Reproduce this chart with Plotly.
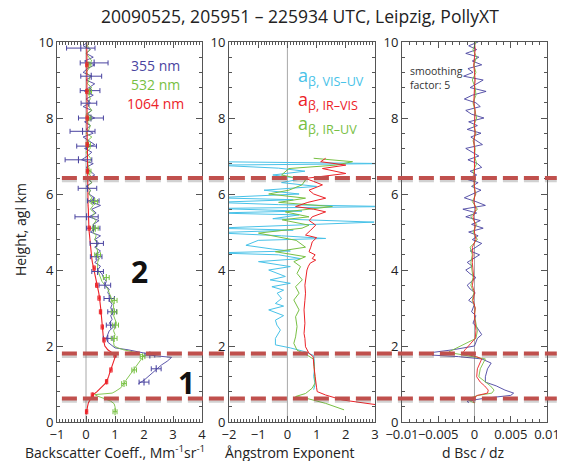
import numpy as np
import plotly.graph_objects as go

# ---------------- DATA ----------------
title_text = "20090525, 205951 – 225934 UTC, Leipzig, PollyXT"
layer_boundaries = [0.62, 1.80, 6.42]

# grid for upper/mid profile part (km)
h_grid = list(np.round(np.arange(10.0, 1.95, -0.1), 2))   # 10.0 ... 2.0

# Panel 1: backscatter coefficient (Mm-1 sr-1)
b355_grid = [0.05, -0.1, 0.15, 0.0, 0.25, -0.05, 0.3, 0.05, -0.1, 0.2, 0.0, 0.3, 0.1, -0.05, 0.25, 0.0,
             0.15, -0.1, 0.2, 0.05, 0.3, -0.05, 0.15, 0.0, 0.25, -0.1, 0.1, 0.3, -0.05, 0.2, 0.05, -0.15,
             0.25, 0.0, 0.15, 0.3, 0.05, 0.2, 0.0, 0.15, 0.1,
             0.3, 0.15, 0.5, 0.2, 0.35, 0.1, 0.45, 0.25, 0.35, 0.15,
             0.5, 0.3, 0.45, 0.3, 0.5, 0.35, 0.45, 0.3, 0.5, 0.4,
             0.55, 0.6, 0.7, 0.65, 0.8, 0.75, 0.85, 0.8, 0.9, 0.85,
             0.95, 0.85, 0.9, 0.8, 0.95, 0.8, 0.75, 0.7, 0.75, 0.9]
h355_low = [1.95, 1.9, 1.85, 1.8, 1.75, 1.7, 1.6, 1.5, 1.4, 1.3, 1.2, 1.1, 1.0]
b355_low = [1.0, 1.45, 1.8, 2.1, 2.3, 2.95, 2.8, 2.6, 2.45, 2.3, 2.15, 2.0, 1.8]

b532_grid = [0.1, 0.05, 0.15, 0.0, 0.1, 0.2, 0.05, 0.1, 0.0, 0.15, 0.1, 0.05, 0.2, 0.0, 0.1, 0.15,
             0.05, 0.1, 0.2, 0.0, 0.1, 0.05, 0.15, 0.1, 0.0, 0.2, 0.05, 0.1, 0.15, 0.0, 0.1, 0.2,
             0.05, 0.1, 0.0, 0.15, 0.1, 0.2, 0.05, 0.15, 0.1,
             0.2, 0.1, 0.25, 0.15, 0.3, 0.2, 0.35, 0.25, 0.3, 0.25,
             0.35, 0.3, 0.4, 0.35, 0.4, 0.35, 0.45, 0.4, 0.4, 0.4,
             0.45, 0.5, 0.55, 0.65, 0.75, 0.8, 0.85, 0.9, 0.95, 0.95,
             1.0, 0.95, 1.0, 1.05, 1.0, 0.95, 1.0, 0.95, 0.95, 0.97]
h532_low = [1.95, 1.9, 1.85, 1.8, 1.75, 1.7, 1.6, 1.5, 1.4, 1.3, 1.2, 1.1, 1.0, 0.9, 0.8, 0.76,
            0.72, 0.68, 0.62, 0.55, 0.48, 0.4, 0.27]
b532_low = [1.1, 1.3, 1.6, 1.8, 2.0, 1.95, 1.85, 1.75, 1.65, 1.55, 1.45, 1.38, 1.3, 1.2, 1.0, 0.9,
            0.3, 0.4, 0.62, 0.85, 0.97, 1.0, 1.02]

b1064_grid = [0.02, 0.03, 0.02, 0.03, 0.03, 0.02, 0.03, 0.03, 0.02, 0.03, 0.03, 0.03, 0.02, 0.03, 0.03, 0.03,
              0.03, 0.04, 0.03, 0.03, 0.04, 0.04, 0.03, 0.04, 0.04, 0.04, 0.04, 0.05, 0.04, 0.05, 0.05, 0.05,
              0.05, 0.05, 0.05, 0.06, 0.05, 0.06, 0.06, 0.06, 0.06,
              0.06, 0.07, 0.07, 0.08, 0.08, 0.09, 0.09, 0.1, 0.1, 0.11,
              0.12, 0.13, 0.14, 0.15, 0.17, 0.18, 0.2, 0.22, 0.25, 0.28,
              0.3, 0.33, 0.36, 0.4, 0.42, 0.44, 0.46, 0.48, 0.5, 0.5,
              0.52, 0.53, 0.54, 0.55, 0.56, 0.56, 0.58, 0.6, 0.62, 0.65]
h1064_low = [1.95, 1.9, 1.85, 1.8, 1.75, 1.7, 1.6, 1.5, 1.4, 1.3, 1.2, 1.1, 1.0, 0.9, 0.8, 0.7,
             0.6, 0.5, 0.4, 0.3, 0.25]
b1064_low = [0.7, 0.75, 0.85, 0.95, 1.02, 1.0, 0.95, 0.9, 0.86, 0.82, 0.78, 0.73, 0.65, 0.52, 0.38, 0.22,
             0.14, 0.08, 0.05, 0.02, 0.02]

# error-bar points
eb355_h = [9.84, 9.45, 9.10, 8.72, 8.39, 8.0, 7.65, 7.26, 6.90, 6.15, 5.82, 5.40, 5.10, 4.70, 4.35, 3.96,
           3.6, 3.25, 2.9, 2.55, 2.2, 1.76, 1.4, 1.05]
eb355_x = [-0.18, 0.28, 0.18, 0.14, 0.1, 0.17, -0.12, 0.02, -0.26, 0.05, 0.25, 0.02, 0.25, 0.37, 0.35, 0.4,
           0.65, 0.8, 0.9, 0.85, 0.75, 2.2, 2.42, 2.0]
eb355_e = [0.49, 0.48, 0.36, 0.34, 0.27, 0.43, 0.43, 0.34, 0.46, 0.32, 0.2, 0.4, 0.23, 0.23, 0.2, 0.2,
           0.2, 0.18, 0.15, 0.15, 0.15, 0.17, 0.17, 0.17]
eb532_h = [9.4, 8.7, 8.0, 7.3, 6.6, 5.8, 5.1, 4.4, 3.8, 3.2, 2.9, 2.55, 2.2, 1.72, 1.37, 1.01, 0.27]
eb532_x = [0.1, 0.12, 0.1, 0.08, 0.1, 0.3, 0.32, 0.4, 0.7, 0.97, 0.97, 1.02, 0.97, 1.95, 1.66, 1.31, 1.0]
eb532_e = [0.07, 0.07, 0.07, 0.07, 0.07, 0.1, 0.1, 0.1, 0.1, 0.1, 0.1, 0.1, 0.1, 0.08, 0.08, 0.08, 0.07]
eb1064_h = [9.4, 8.7, 8.0, 7.3, 6.6, 5.1, 4.05, 3.6, 3.26, 2.9, 2.5, 2.16, 1.76, 1.37, 1.06, 0.71, 0.27]
eb1064_x = [0.03, 0.03, 0.04, 0.04, 0.05, 0.11, 0.28, 0.37, 0.45, 0.5, 0.56, 0.62, 1.0, 0.86, 0.71, 0.22, 0.02]
eb1064_e = [0.04] * 17

# Panel 2: Angstrom exponents
ang_irvis_h = [0.45, 0.58, 0.71, 0.8, 0.9, 1.03, 1.2, 1.46, 1.72, 1.81, 1.98, 2.2, 2.33, 2.6, 2.95, 3.2,
               3.39, 3.6, 3.74, 4.0, 4.1, 4.18, 4.26, 4.3, 4.4, 4.48, 4.6, 4.74, 4.85, 4.92, 5.05, 5.18,
               5.3, 5.4, 5.53, 5.6, 5.67, 5.78, 5.89, 6.0, 6.1, 6.24, 6.33, 6.41, 6.54, 6.67, 6.76, 6.85, 6.94]
ang_irvis = [3.09, 1.88, 1.31, 1.02, 1.0, 0.97, 0.95, 0.91, 0.88, 0.74, 0.62, 0.6, 0.57, 0.6, 0.57, 0.6,
             0.62, 0.6, 0.62, 0.67, 0.72, 0.78, 0.97, 0.85, 0.95, 0.74, 0.8, 0.85, 1.0, 0.62, 0.8, 0.97,
             0.75, 0.85, 1.31, 0.9, 0.28, 0.7, 1.31, 0.9, 0.74, 1.2, 0.9, 0.62, 2.0, 1.2, 2.0, 1.14, 1.31]
ang_iruv_h = [0.32, 0.49, 0.63, 0.67, 0.75, 0.89, 1.03, 1.2, 1.46, 1.65, 1.76, 1.89, 2.07, 2.24, 2.51, 2.77,
              2.95, 3.21, 3.39, 3.56, 3.74, 3.91, 4.09, 4.22, 4.35, 4.48, 4.6, 4.78, 4.97, 5.1, 5.18, 5.32,
              5.4, 5.53, 5.67, 5.78, 5.89, 6.0, 6.1, 6.24, 6.37, 6.5, 6.67, 6.76, 6.85, 6.94]
ang_iruv = [1.94, 1.31, 0.62, 0.28, 0.62, 0.85, 0.95, 0.93, 0.92, 0.9, 0.68, 0.33, 0.22, 0.28, 0.33, 0.28,
            0.4, 0.22, 0.4, 0.28, 0.51, 0.33, 0.45, 0.22, 0.62, -0.41, 0.62, 0.3, -0.99, 0.5, 0.74, -0.18,
            0.74, -0.07, 1.54, -0.3, 0.62, -0.64, 0.05, 0.5, 0.62, -0.2, 0.05, 1.66, 2.23, 0.9]
ang_visuv_h = [0.85, 1.0, 1.2, 1.4, 1.6, 1.75, 1.85, 1.95, 2.03, 2.2, 2.42, 2.55, 2.68, 2.8, 2.95, 3.05,
               3.12, 3.25, 3.39, 3.47, 3.56, 3.65, 3.74, 3.83, 4.0, 4.09, 4.22, 4.3, 4.4, 4.45, 4.5, 4.55,
               4.65, 4.78, 4.83, 4.9, 4.98, 5.05, 5.1, 5.18, 5.26, 5.35, 5.45, 5.5, 5.55, 5.62, 5.67, 5.72,
               5.78, 5.85, 5.9, 6.0, 6.1, 6.2, 6.3, 6.4, 6.5, 6.6, 6.68, 6.76, 6.8, 6.85]
ang_visuv = [0.9, 0.95, 0.9, 0.93, 0.92, 0.9, 0.6, 0.1, -0.41, -0.41, -0.24, -0.36, -0.41, -0.13, -0.64, -0.13,
             -0.41, -0.2, -0.35, -0.13, -0.53, 0.1, -0.59, -0.07, -0.64, 0.1, -0.99, 0.45, -0.3, -2.5, 0.1, -0.5,
             -1.42, -1.0, 1.31, -0.2, -2.5, 0.2, -2.5, 0.3, 2.97, -0.5, 0.4, -2.5, 0.5, -2.5, 3.5, -0.3,
             -2.5, 0.2, -2.5, 0.4, -0.8, 1.0, -0.2, 0.5, -0.5, 0.6, -0.3, -2.5, 3.5, -2.5]

# Panel 3: d Bsc / dz (values in units of 0.001)
d355_grid = [0.5, -0.8, 0.3, -1.2, 0.6, -0.3, 1.0, -0.9, -0.2, -1.5, 1.2, 0.2, -0.6, 1.6, -0.3, -1.4,
             0.2, 0.8, -1.2, -0.4, 1.3, -0.8, 0.4, -1.0, 0.9, -0.5, 0.3, 1.1, -1.2, -0.2, 0.6, -0.9,
             0.4, 1.0, -0.6, 0.3, -1.3, 0.5, -0.4, 0.9, -0.2,
             -1.4, 0.2, 1.5, -1.6, 0.3, -1.2, 0.8, -0.4, 1.2, -0.8,
             0.5, -0.3, 1.0, 0.2, -0.6, 0.7, -0.2, -1.0, -0.3, -1.2,
             -0.6, 0.2, -0.4, -1.0, -0.6, 0.1, -0.3, -0.8, 0.0, -0.2,
             -0.4, 0.2, 0.0, -0.2, 0.3, 0.6, 1.0, 0.4, 0.2, 0.0]
h_grad_low = [2.0, 1.9, 1.85, 1.82, 1.76, 1.72, 1.66, 1.55, 1.4, 1.19, 1.05, 0.95, 0.84, 0.76, 0.7,
              0.62, 0.55, 0.5]
d355_low = [-3.0, -5.5, -6.2, -5.8, -2.2, 1.0, 2.3, 1.8, 1.5, 1.5, 3.0, 4.2, 5.4, 5.0, 1.2, -1.0, -0.8, 0.0]
h_grid2 = list(np.round(np.arange(10.0, 2.05, -0.2), 2))   # 10.0 ... 2.2
d532_grid = [0.2, -0.2, 0.3, -0.1, 0.2, -0.3, 0.1, 0.2, -0.2, 0.1, 0.3, -0.1, 0.2, -0.2, 0.1, 0.0,
             0.3, -0.2, 0.1, -0.1, 0.2, -0.3, 0.4, -0.5, 0.3, -0.2, 0.4, -0.6, -0.3, -0.5,
             -0.4, -0.2, -0.5, -0.1, -0.3, 0.1, 0.0, 0.2, 0.4, 0.2]
d532_low = [-1.8, -3.0, -3.5, -3.2, -1.5, 0.2, 1.5, 1.2, 0.8, 0.6, 1.5, 2.2, 2.7, 2.4, 0.5, -0.8, -0.6, 0.0]
d1064_grid = [0.0, 0.1, 0.0, -0.1, 0.0, 0.1, 0.0, 0.0, -0.1, 0.1, 0.0, 0.0, 0.1, -0.1, 0.0, 0.0,
              0.1, 0.0, -0.1, 0.0, 0.1, -0.1, 0.2, -0.2, 0.1, 0.0, 0.2, -0.3, -0.2, -0.3,
              -0.2, -0.1, -0.3, 0.0, -0.2, 0.1, 0.0, 0.1, 0.2, 0.1]
d1064_low = [-0.9, -1.3, -1.5, -1.4, -0.6, 0.3, 1.0, 0.7, 0.4, 0.3, 0.8, 1.4, 1.9, 1.8, 0.4, -0.3, -0.2, 0.0]

# ---------------- STYLE ----------------
C_BLUE = "#4a44a0"
C_GREEN = "#78c043"
C_RED = "#ec2228"
C_CYAN = "#48c2e8"
C_DASH = "#c0504d"
FONT = "Open Sans"

fig = go.Figure()


def line(x, y, color, ax, width=1):
    fig.add_trace(go.Scatter(x=x, y=y, mode="lines", line=dict(color=color, width=width),
                             xaxis=ax[0], yaxis=ax[1], showlegend=False, hoverinfo="skip"))


def ebars(x, y, e, color, ax, size=5):
    fig.add_trace(go.Scatter(x=x, y=y, mode="markers",
                             marker=dict(symbol="line-ns", size=size, line=dict(color=color, width=1.1)),
                             error_x=dict(type="data", array=e, color=color, thickness=1, width=2.5),
                             xaxis=ax[0], yaxis=ax[1], showlegend=False, hoverinfo="skip"))


A1, A2, A3 = ("x", "y"), ("x2", "y2"), ("x3", "y3")

# panel 1
line(b355_grid + b355_low, h_grid + h355_low, C_BLUE, A1, 0.9)
line(b532_grid + b532_low, h_grid + h532_low, C_GREEN, A1, 0.9)
line(b1064_grid + b1064_low, h_grid + h1064_low, C_RED, A1, 1.1)
ebars(eb355_x, eb355_h, eb355_e, C_BLUE, A1)
ebars(eb532_x, eb532_h, eb532_e, C_GREEN, A1)
ebars(eb1064_x, eb1064_h, eb1064_e, C_RED, A1, size=4)

# panel 2
line(ang_visuv, ang_visuv_h, C_CYAN, A2, 1)
line(ang_iruv, ang_iruv_h, C_GREEN, A2, 1)
line(ang_irvis, ang_irvis_h, C_RED, A2, 1)

# panel 3
line([v * 1e-3 for v in d355_grid + d355_low], h_grid[:-1] + h_grad_low, C_BLUE, A3, 0.9)
line([v * 1e-3 for v in d532_grid + d532_low], h_grid2 + h_grad_low, C_GREEN, A3, 0.9)
line([v * 1e-3 for v in d1064_grid + d1064_low], h_grid2 + h_grad_low, C_RED, A3, 0.9)

# zero reference lines
for xr in ["x", "x2", "x3"]:
    fig.add_shape(type="line", xref=xr, yref="paper", x0=0, x1=0, y0=0, y1=1,
                  line=dict(color="#a8a8a8", width=1), layer="below")

# layer boundaries (dashed, with a soft shadow)
for h in layer_boundaries:
    fig.add_shape(type="line", xref="paper", yref="y", x0=0.01, x1=1.02, y0=h - 0.06, y1=h - 0.06,
                  line=dict(color="rgba(90,90,90,0.28)", width=4, dash="15px,6px"))
    fig.add_shape(type="line", xref="paper", yref="y", x0=0.01, x1=1.02, y0=h, y1=h,
                  line=dict(color=C_DASH, width=4, dash="15px,6px"))

axis_common = dict(showline=True, linecolor="#555", linewidth=1, mirror="ticks", ticks="inside",
                   tickcolor="#555", ticklen=6, showgrid=False, zeroline=False, automargin=False,
                   tickfont=dict(family=FONT, size=13, color="#222"))

yax = dict(axis_common, range=[0, 10], dtick=2, tick0=0,
           minor=dict(ticks="inside", ticklen=3, dtick=0.4, tick0=0, tickcolor="#555"))

# page body has an 8px margin, so the figure is sized to fit the 565x461 window
fig.update_layout(
    width=557, height=453,
    margin=dict(l=49, r=18, t=34, b=39),
    paper_bgcolor="white", plot_bgcolor="white",
    font=dict(family=FONT, color="#222"),
    xaxis=dict(axis_common, domain=[0, 0.296], range=[-1, 4], dtick=1, tickangle=0,
               minor=dict(ticks="inside", ticklen=3, dtick=0.1, tickcolor="#555")),
    xaxis2=dict(axis_common, domain=[0.351, 0.649], range=[-2, 3], dtick=1, anchor="y2", tickangle=0,
                minor=dict(ticks="inside", ticklen=3, dtick=0.1, tickcolor="#555")),
    xaxis3=dict(axis_common, domain=[0.704, 1.0], range=[-0.01, 0.01], dtick=0.005, anchor="y3",
                tickangle=0,
                minor=dict(ticks="inside", ticklen=3, dtick=0.001, tickcolor="#555")),
    yaxis=dict(yax, anchor="x"),
    yaxis2=dict(yax, anchor="x2"),
    yaxis3=dict(yax, anchor="x3"),
)

ann = []
ann.append(dict(text=title_text, xref="paper", yref="paper", x=0.496, y=1.068, showarrow=False,
                font=dict(size=17.5, color="#222"), xanchor="center", yanchor="middle"))
ann.append(dict(text="Height, agl km", xref="paper", yref="paper", x=-0.0755, y=0.505, textangle=-90,
                showarrow=False, font=dict(size=14), xanchor="center", yanchor="middle"))
ann.append(dict(text="Backscatter Coeff., Mm<sup>-1</sup>sr<sup>-1</sup>", xref="paper", yref="paper",
                x=0.118, y=-0.079, showarrow=False, font=dict(size=14), xanchor="center", yanchor="middle"))
ann.append(dict(text="Ångstrom Exponent", xref="paper", yref="paper", x=0.4755, y=-0.079,
                showarrow=False, font=dict(size=14), xanchor="center", yanchor="middle"))
ann.append(dict(text="d Bsc / dz", xref="paper", yref="paper", x=0.851, y=-0.079,
                showarrow=False, font=dict(size=14), xanchor="center", yanchor="middle"))
# legend texts panel 1
for txt, yy, col in [("355 nm", 9.37, C_BLUE), ("532 nm", 8.87, C_GREEN), ("1064 nm", 8.39, C_RED)]:
    ann.append(dict(text=txt, xref="x", yref="y", x=2.4, y=yy, showarrow=False,
                    font=dict(size=14, color=col), xanchor="center", yanchor="middle"))
# legend texts panel 2
for txt, yy, col in [("VIS–UV", 9.08, C_CYAN), ("IR–VIS", 8.45, C_RED), ("IR–UV", 7.82, C_GREEN)]:
    ann.append(dict(text="a<sub>β, " + txt + "</sub>", xref="x2", yref="y2", x=0.3, y=yy, showarrow=False,
                    font=dict(size=18, color=col), xanchor="left", yanchor="middle"))
# panel 3 note
ann.append(dict(text="smoothing<br>factor: 5", xref="x3", yref="y3", x=-0.0092, y=9.05, showarrow=False,
                font=dict(size=10.5, color="#333"), xanchor="left", yanchor="middle", align="left"))
# layer numbers
ann.append(dict(text="<b>2</b>", xref="x", yref="y", x=1.86, y=3.95, showarrow=False,
                font=dict(size=30, color="#111"), xanchor="center", yanchor="middle"))
ann.append(dict(text="<b>1</b>", xref="x", yref="y", x=3.45, y=1.03, showarrow=False,
                font=dict(size=30, color="#111"), xanchor="center", yanchor="middle"))
fig.update_layout(annotations=ann)

fig.write_html("out.html")
